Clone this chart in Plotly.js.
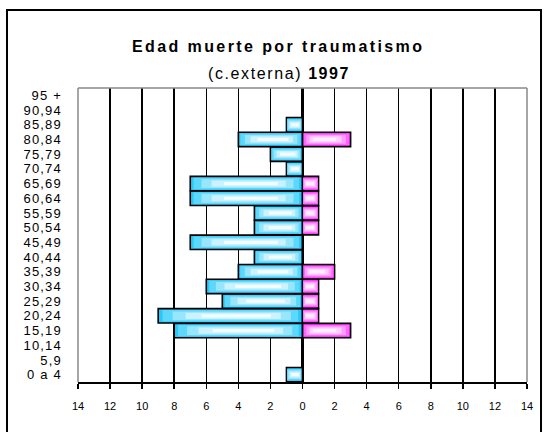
<!DOCTYPE html>
<html>
<head>
<meta charset="utf-8">
<script src="https://cdn.plot.ly/plotly-3.0.1.min.js"></script>
<style>
  html, body { margin: 0; padding: 0; background: #fff; }
  #wrap { position: relative; width: 545px; height: 432px; overflow: hidden; }
  #chart { width: 545px; height: 432px; }
  #frame { position: absolute; left: 6px; top: 9px; width: 532px; height: 440px; border: 2px solid #000; pointer-events: none; }
  .ytick text { letter-spacing: 1.2px; }
</style>
</head>
<body>
<div id="wrap"><div id="chart"></div><div id="frame"></div></div>
<script>
const categories = ["0 a 4","5,9","10,14","15,19","20,24","25,29","30,34","35,39","40,44","45,49","50,54","55,59","60,64","65,69","70,74","75,79","80,84","85,89","90,94","95 +"];
const leftValues  = [1,0,0,8,9,5,6,4,3,7,3,3,7,7,1,2,4,1,0,0];
const rightValues = [0,0,0,3,1,1,1,2,0,0,1,1,1,1,0,0,3,0,0,0];
const xTickVals = [-14,-12,-10,-8,-6,-4,-2,0,2,4,6,8,10,12,14];
const xTickText = ["14","12","10","8","6","4","2","0","2","4","6","8","10","12","14"];

const leftNeg = leftValues.map(v => -v);

// gradient approximation: stacked, shrinking highlight layers
const steps = [
  {w: 0.98, len: 1.00, off: 0.00},
  {w: 0.78, len: 0.94, off: 0.03},
  {w: 0.60, len: 0.82, off: 0.08},
  {w: 0.42, len: 0.66, off: 0.15},
  {w: 0.22, len: 0.48, off: 0.22}
];

function layers(vals, colors) {
  return steps.map((s, i) => {
    const t = {type:'bar', orientation:'h', y:categories,
      x: vals.map(v => v * s.len), base: vals.map(v => v * s.off),
      width: s.w, marker:{color: colors[i], line:{width:0}}, hoverinfo:'skip'};
    if (i === 0) t.marker.line = {color:'#000', width:1.6};
    return t;
  });
}

const data = [].concat(
  layers(leftNeg, ['#27C9F9', '#5DD7FB', '#98E5FC', '#CCF2FE', '#F3FCFF']),
  layers(rightValues, ['#FF2CFF', '#FF66FF', '#FF9DFF', '#FFCFFF', '#FFF0FF'])
);

const font = 'Liberation Sans, Arial, sans-serif';
const layout = {
  width: 545, height: 432,
  margin: {l: 78, r: 18, t: 88, b: 50, pad: 0},
  paper_bgcolor: '#fff', plot_bgcolor: '#fff',
  barmode: 'overlay', bargap: 0.02,
  showlegend: false,
  font: {family: font, color: '#000'},
  xaxis: {
    range: [-14, 14], tickmode: 'array', tickvals: xTickVals, ticktext: xTickText,
    showgrid: true, gridcolor: '#000', gridwidth: 1.5,
    zeroline: true, zerolinecolor: '#000', zerolinewidth: 2.5,
    showline: true, linecolor: '#000', linewidth: 2,
    ticks: 'outside', ticklen: 5, tickwidth: 1.5, tickcolor: '#000',
    ticklabelstandoff: 8,
    tickfont: {family: font, size: 11, color: '#000'},
    fixedrange: true
  },
  yaxis: {
    type: 'category', categoryorder: 'array', categoryarray: categories,
    tickmode: 'array', tickvals: categories, ticktext: categories,
    showgrid: false, zeroline: false, showline: false, ticks: '',
    ticklabelstandoff: 15,
    tickfont: {family: font, size: 13, color: '#000'},
    fixedrange: true
  },
  shapes: [
    {type:'line', xref:'paper', yref:'paper', x0:0, x1:1, y0:1, y1:1, line:{color:'#888', width:1.5}, layer:'above'},
    {type:'line', xref:'paper', yref:'paper', x0:0, x1:0, y0:0, y1:1, line:{color:'#888', width:1.5}, layer:'above'},
    {type:'line', xref:'paper', yref:'paper', x0:1, x1:1, y0:0, y1:1, line:{color:'#888', width:1.5}, layer:'above'}
  ],
  annotations: [
    {text:'<span style="letter-spacing:2.4px"><b>Edad muerte por traumatismo</b></span>', xref:'paper', yref:'paper',
      x:(278-78)/449, y:1+(88-47)/294,
      xanchor:'center', yanchor:'middle', showarrow:false, font:{family:font, size:16, color:'#000', weight:'bold'}},
    {text:'<span style="letter-spacing:1.6px">(c.externa) <b>1997</b></span>', xref:'paper', yref:'paper',
      x:(279-78)/449, y:1+(88-73)/294,
      xanchor:'center', yanchor:'middle', showarrow:false, font:{family:font, size:16, color:'#000'}}
  ]
};

Plotly.newPlot('chart', data, layout, {displayModeBar: false, staticPlot: true});
</script>
</body>
</html>
